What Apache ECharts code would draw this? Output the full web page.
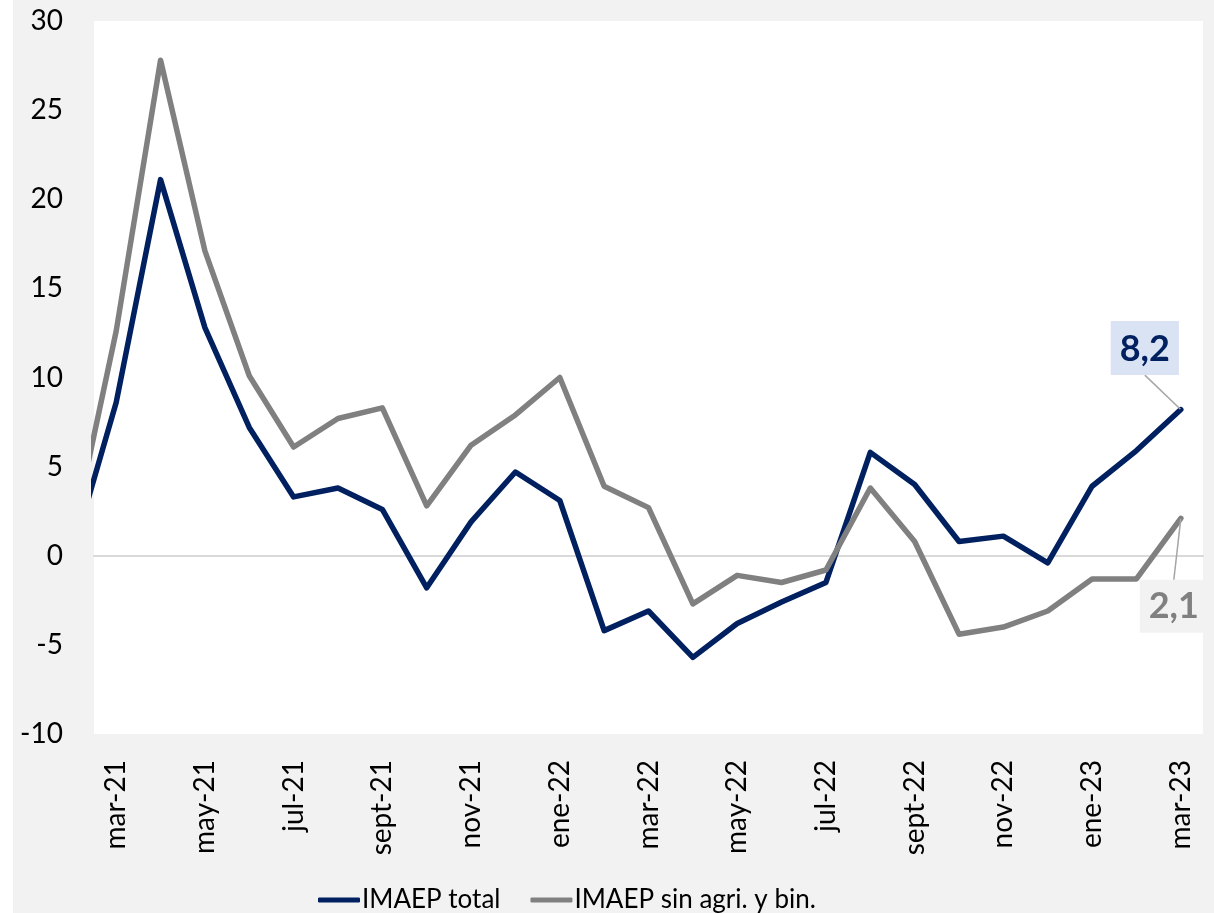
<!DOCTYPE html>
<html>
<head>
<meta charset="utf-8">
<script src="https://cdn.jsdelivr.net/npm/echarts@6/dist/echarts.min.js"></script>
<style>
  html, body { margin: 0; padding: 0; background: #fff; }
  #chart { position: absolute; left: 13px; top: 0; width: 1201px; height: 913px; }
</style>
</head>
<body>
<div id="chart"></div>
<script>
// meses (feb-21 queda fuera del área, sólo asoma el tramo hacia mar-21)
var months = ["feb-21", "mar-21", "abr-21", "may-21", "jun-21", "jul-21", "ago-21",
  "sept-21", "oct-21", "nov-21", "dic-21", "ene-22", "feb-22", "mar-22", "abr-22",
  "may-22", "jun-22", "jul-22", "ago-22", "sept-22", "oct-22", "nov-22", "dic-22",
  "ene-23", "feb-23", "mar-23"];
var tickLabels = ["mar-21", "may-21", "jul-21", "sept-21", "nov-21", "ene-22",
  "mar-22", "may-22", "jul-22", "sept-22", "nov-22", "ene-23", "mar-23"];
var imaepTotal = [0.0, 8.6, 21.1, 12.8, 7.2, 3.3, 3.8, 2.6, -1.8, 1.9, 4.7, 3.1,
  -4.2, -3.1, -5.7, -3.8, -2.6, -1.5, 5.8, 4.0, 0.8, 1.1, -0.4, 3.9, 5.9, 8.2];
var imaepSinAgri = [0.9, 12.6, 27.8, 17.1, 10.1, 6.1, 7.7, 8.3, 2.8, 6.2, 7.9, 10.0,
  3.9, 2.7, -2.7, -1.1, -1.5, -0.8, 3.8, 0.8, -4.4, -4.0, -3.1, -1.3, -1.3, 2.1];

var FONT = "Lato, 'Open Sans', sans-serif";

function coma(v) { return v.toFixed(1).replace(".", ","); }

// x = índice de mes, mar-21 = 0
function toPoints(vals, lastLabel) {
  return vals.map(function (v, i) {
    var item = { value: [i - 1, v] };
    if (i === vals.length - 1) {
      item.symbol = "circle";
      item.symbolSize = 1;
      item.label = lastLabel;
    }
    return item;
  });
}

var tickIdx = tickLabels.map(function (t) { return months.indexOf(t) - 1; });

var chart = echarts.init(document.getElementById("chart"));
chart.setOption({
  animation: false,
  backgroundColor: "#f2f2f2",
  textStyle: { fontFamily: FONT },
  grid: { left: 81, right: 11, top: 21, bottom: 179, show: true,
          backgroundColor: "#fff", borderWidth: 0 },
  legend: {
    left: 300, top: 882,
    icon: "roundRect", itemWidth: 42, itemHeight: 5, itemGap: 30,
    textStyle: { fontSize: 26, color: "#000", fontFamily: FONT, padding: [0, 0, 0, -3] },
    data: ["IMAEP total", "IMAEP sin agri. y bin."]
  },
  xAxis: [{
    type: "value", min: -0.5, max: 24.5,
    axisLine: { show: true, onZero: true, lineStyle: { color: "#d9d9d9", width: 2 } },
    axisTick: { show: false }, axisLabel: { show: false }, splitLine: { show: false }
  }, {
    type: "value", min: -0.5, max: 24.5, position: "bottom",
    axisLine: { show: false, onZero: false },
    axisTick: { show: false }, splitLine: { show: false },
    axisLabel: {
      customValues: tickIdx, rotate: 90, margin: 26,
      fontSize: 28, color: "#000", fontFamily: FONT,
      formatter: function (v) { return months[Math.round(v) + 1]; }
    }
  }],
  yAxis: {
    type: "value", min: -10, max: 30, interval: 5,
    axisLine: { show: false }, axisTick: { show: false }, splitLine: { show: false },
    axisLabel: { fontSize: 28, color: "#000", margin: 31, fontFamily: FONT }
  },
  series: [{
    name: "IMAEP total", type: "line", xAxisIndex: 0,
    symbol: "none",
    lineStyle: { color: "#002060", width: 5.5, cap: "round", join: "round" },
    itemStyle: { color: "#002060" },
    labelLine: { show: true, lineStyle: { color: "#a6a6a6", width: 1.5 } },
    labelLayout: { dx: -36, dy: -29 },
    data: toPoints(imaepTotal, {
      show: true, position: "top", distance: 5,
      formatter: function (p) { return coma(p.value[1]); },
      fontSize: 36, fontWeight: "bold", color: "#002060", fontFamily: FONT,
      backgroundColor: "#dae3f3", padding: [10, 9, 8, 9]
    })
  }, {
    name: "IMAEP sin agri. y bin.", type: "line", xAxisIndex: 0,
    symbol: "none",
    lineStyle: { color: "#808080", width: 5.5, cap: "round", join: "round" },
    itemStyle: { color: "#808080" },
    labelLine: { show: true, lineStyle: { color: "#a6a6a6", width: 1.5 } },
    labelLayout: { dx: -7, dy: 56 },
    data: toPoints(imaepSinAgri, {
      show: true, position: "bottom", distance: 5,
      formatter: function (p) { return coma(p.value[1]); },
      fontSize: 36, fontWeight: "bold", color: "#808080", fontFamily: FONT,
      backgroundColor: "#f2f2f2", padding: [9, 9, 8, 9]
    })
  }]
});
</script>
</body>
</html>
